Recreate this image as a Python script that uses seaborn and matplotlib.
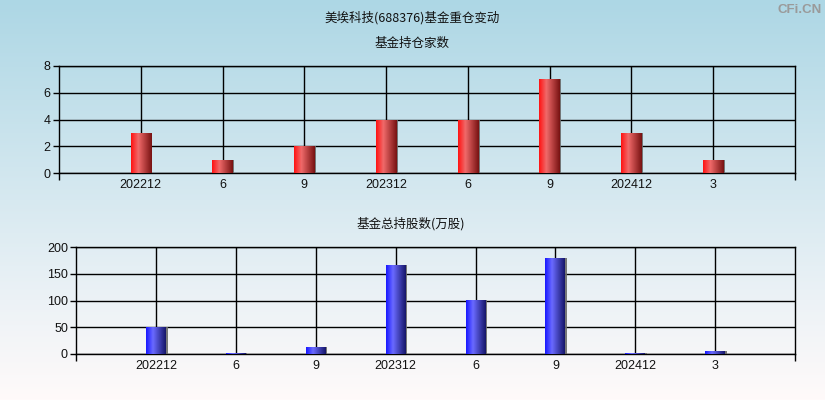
import numpy as np
import pandas as pd
import matplotlib
matplotlib.use("Agg")
import matplotlib.pyplot as plt
import matplotlib.patheffects as pe
from matplotlib.colors import LinearSegmentedColormap
import seaborn as sns

# ---- data ----
periods = ["202212", "6", "9", "202312", "6 ", "9 ", "202412", "3"]
tick_labels = ["202212", "6", "9", "202312", "6", "9", "202412", "3"]
fund_counts = [3, 1, 2, 4, 4, 7, 3, 1]
fund_shares = [50, 2.5, 13, 167, 101, 180, 2.5, 6]

main_title = "美埃科技(688376)基金重仓变动"
title_top = "基金持仓家数"
title_bottom = "基金总持股数(万股)"

sns.set_theme(style="white")
plt.rcParams["font.family"] = ["Liberation Sans", "Noto Sans CJK SC", "DejaVu Sans"]
cjk = ["Noto Sans CJK SC", "DejaVu Sans"]

fig = plt.figure(figsize=(8.25, 4.0), dpi=100)

# background gradient
bg = fig.add_axes([0, 0, 1, 1], zorder=-10)
top_c = np.array([173, 215, 229]) / 255
mid_c = np.array([236, 242, 246]) / 255
bot_c = np.array([255, 250, 250]) / 255
t = np.linspace(0, 1, 400)[:, None]
grad = np.where(t < 0.75, top_c + (mid_c - top_c) * (t / 0.75), mid_c + (bot_c - mid_c) * ((t - 0.75) / 0.25))
bg.imshow(grad[:, None, :].repeat(2, axis=1), aspect="auto", extent=[0, 1, 0, 1])
bg.set_axis_off()

red_cmap = LinearSegmentedColormap.from_list("r", [(0, "#ff1212"), (0.35, "#f06a6a"), (1, "#781212")])
blue_cmap = LinearSegmentedColormap.from_list("b", [(0, "#1818ff"), (0.35, "#6a6aff"), (1, "#16166a")])


def draw(ax, values, cmap, base_color, ymax, yticks):
    df = pd.DataFrame({"period": periods, "value": values})
    sns.barplot(data=df, x="period", y="value", order=periods, color=base_color,
                width=0.25, ax=ax, zorder=3, saturation=1)
    gx = np.linspace(0, 1, 64)[None, :]
    for p in ax.patches:
        x0, y0 = p.get_x(), p.get_y()
        w, h = p.get_width(), p.get_height()
        p.set_edgecolor("none")
        p.set_path_effects([pe.SimplePatchShadow(offset=(1.0, 0), shadow_rgbFace="#6a6a6a", alpha=0.9), pe.Normal()])
        im = ax.imshow(gx, cmap=cmap, aspect="auto", extent=[x0, x0 + w, y0, y0 + h],
                       zorder=4, interpolation="bilinear")
        im.set_clip_path(p)
    ax.set_xlim(-1, 8)
    ax.set_ylim(0, ymax)
    ax.set_yticks(yticks)
    ax.set_xticks(range(len(periods)))
    ax.set_xticklabels(tick_labels)
    ax.set_xticks([-1, 8], minor=True)
    ax.set_facecolor("none")
    ax.grid(True, color="black", linewidth=1, zorder=1)
    ax.set_axisbelow(True)
    for s in ax.spines.values():
        s.set_color("black")
        s.set_linewidth(1)
    ax.tick_params(axis="y", which="major", left=True, length=4, width=1, color="black",
                   labelsize=9, pad=2, labelcolor="#111111")
    ax.tick_params(axis="x", which="major", bottom=False, length=0, labelsize=9, pad=4, labelcolor="#111111")
    ax.tick_params(axis="x", which="minor", bottom=True, length=5, width=1, color="black")
    ax.set_xlabel("")
    ax.set_ylabel("")


ax1 = fig.add_axes([59 / 825, 1 - 173 / 400, (795 - 59) / 825, (173 - 66) / 400])
draw(ax1, fund_counts, red_cmap, "#d03030", 8, [0, 2, 4, 6, 8])

ax2 = fig.add_axes([76.3 / 825, 1 - 354 / 400, (795 - 76.3) / 825, (354 - 247.3) / 400])
draw(ax2, fund_shares, blue_cmap, "#3030d0", 200, [0, 50, 100, 150, 200])

fig.text(412 / 825, 1 - 18 / 400, main_title, ha="center", va="center", fontsize=9, family=cjk, color="#111111")
fig.text(412 / 825, 1 - 43 / 400, title_top, ha="center", va="center", fontsize=9, family=cjk, color="#111111")
fig.text(411 / 825, 1 - 224 / 400, title_bottom, ha="center", va="center", fontsize=9, family=cjk, color="#111111")
fig.text(822 / 825, 1 - 10 / 400, "CFi.CN", ha="right", va="center", fontsize=9.5,
         fontweight="bold", color="#9a9a9a", family=["Liberation Sans"])

fig.savefig("out.png", dpi=100)
